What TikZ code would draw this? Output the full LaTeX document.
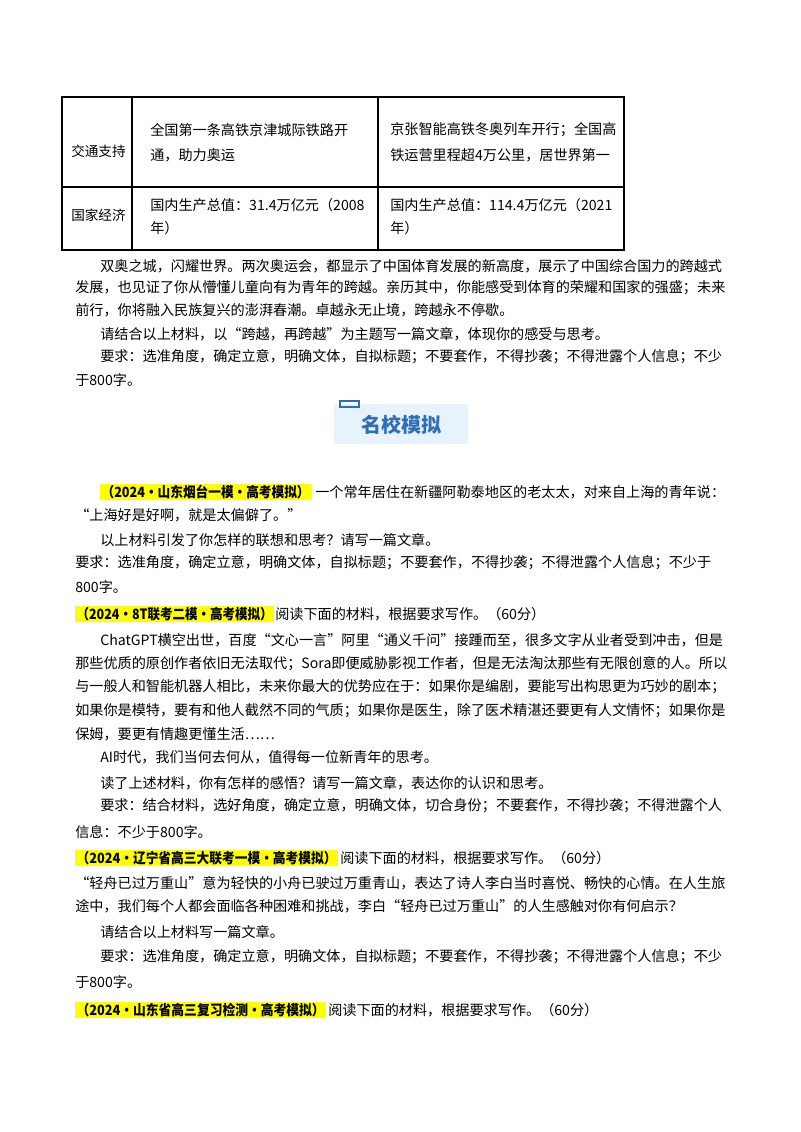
\documentclass[tikz,border=0pt]{standalone}
\usepackage{fontspec}
\usepackage{graphicx}
\setmainfont{Noto Sans CJK SC}
\XeTeXlinebreaklocale "zh"
\XeTeXlinebreakskip=0pt plus 2pt
\definecolor{hl}{HTML}{FFFF00}
\definecolor{bannerbg}{HTML}{E6F3FD}
\definecolor{bannerfg}{HTML}{2E6EB5}
\tikzset{ln/.style={anchor=west,inner sep=0pt,font=\fontsize{10.6pt}{12pt}\selectfont},
 hd/.style={anchor=west,inner sep=1pt,fill=hl,font=\fontsize{10.6pt}{12pt}\selectfont\bfseries},
 tb/.style={draw=black,line width=0.9pt}}
\newcommand{\fl}[4]{\node[ln] (#1) at (#2,#3) {\hbox to \dimexpr(722pt-#2pt)*3/4\relax{#4}};}
\newcommand{\pl}[4]{\node[ln] (#1) at (#2,#3) {#4};}
\newcommand{\hdr}[5]{\node[hd] (#1) at (#2,#3) {\resizebox{\dimexpr #4pt*3/4\relax}{\height}{#5}};}
\begin{document}
\begin{tikzpicture}[x=0.75pt,y=-0.75pt]
\useasboundingbox[fill=white] (0,0) rectangle (800,1132);
% table
\draw[tb] (62,97) rectangle (624,250);
\draw[tb] (62,187) -- (624,187);
\draw[tb] (132,97) -- (132,250);
\draw[tb] (378,97) -- (378,250);
\node[ln,font=\fontsize{10.2pt}{12pt}\selectfont] (t1) at (71,151) {交通支持};
\pl{t2}{150}{130}{全国第一条高铁京津城际铁路开}
\pl{t3}{150}{155}{通，助力奥运}
\pl{t4}{390}{130}{京张智能高铁冬奥列车开行；全国高}
\pl{t5}{390}{155}{铁运营里程超4万公里，居世界第一}
\node[ln,font=\fontsize{10.2pt}{12pt}\selectfont] (t6) at (71,215) {国家经济};
\pl{t7}{150}{205}{国内生产总值：31.4万亿元（2008}
\pl{t8}{150}{228}{年）}
\pl{t9}{390}{205}{国内生产总值：114.4万亿元（2021}
\pl{t10}{390}{228}{年）}
\fl{a1}{100}{266}{双奥之城，闪耀世界。两次奥运会，都显示了中国体育发展的新高度，展示了中国综合国力的跨越式}
\fl{a2}{75}{288}{发展，也见证了你从懵懂儿童向有为青年的跨越。亲历其中，你能感受到体育的荣耀和国家的强盛；未来}
\pl{a3}{75}{310}{前行，你将融入民族复兴的澎湃春潮。卓越永无止境，跨越永不停歇。}
\pl{a4}{100}{334}{请结合以上材料，以“跨越，再跨越”为主题写一篇文章，体现你的感受与思考。}
\fl{a5}{100}{357}{要求：选准角度，确定立意，明确文体，自拟标题；不要套作，不得抄袭；不得泄露个人信息；不少}
\pl{a6}{75}{380}{于800字。}
% banner
\fill[bannerbg] (334,404) rectangle (468,444);
\draw[bannerfg,line width=0.8pt] (340,401) rectangle (359,407);
\node[font=\fontsize{15pt}{16pt}\selectfont\bfseries,text=bannerfg] (bn) at (401,425) {名校模拟};
% q1
\hdr{h1}{100}{492}{208}{（2024·山东烟台一模·高考模拟）}
\node[ln] (b1) at (315,492) {\hbox to \dimexpr(722pt-315pt)*3/4\relax{一个常年居住在新疆阿勒泰地区的老太太，对来自上海的青年说：}};
\pl{b2}{75}{515}{“上海好是好啊，就是太偏僻了。”}
\pl{b3}{100}{540}{以上材料引发了你怎样的联想和思考？请写一篇文章。}
\fl{b4}{75}{563}{要求：选准角度，确定立意，明确文体，自拟标题；不要套作，不得抄袭；不得泄露个人信息；不少于}
\pl{b5}{75}{587}{800字。}
% q2
\hdr{h2}{75}{614}{196}{（2024·8T联考二模·高考模拟）}
\pl{c0}{275}{614}{阅读下面的材料，根据要求写作。（60分）}
\fl{c1}{100}{640}{ChatGPT横空出世，百度“文心一言”阿里“通义千问”接踵而至，很多文字从业者受到冲击，但是}
\fl{c2}{75}{664}{那些优质的原创作者依旧无法取代；Sora即便威胁影视工作者，但是无法淘汰那些有无限创意的人。所以}
\fl{c3}{75}{687}{与一般人和智能机器人相比，未来你最大的优势应在于：如果你是编剧，要能写出构思更为巧妙的剧本；}
\fl{c4}{75}{711}{如果你是模特，要有和他人截然不同的气质；如果你是医生，除了医术精湛还要更有人文情怀；如果你是}
\pl{c5}{75}{734}{保姆，要更有情趣更懂生活……}
\pl{c6}{100}{757}{AI时代，我们当何去何从，值得每一位新青年的思考。}
\pl{c7}{100}{783}{读了上述材料，你有怎样的感悟？请写一篇文章，表达你的认识和思考。}
\fl{c8}{100}{806}{要求：结合材料，选好角度，确定立意，明确文体，切合身份；不要套作，不得抄袭；不得泄露个人}
\pl{c9}{75}{832}{信息：不少于800字。}
% q3
\hdr{h3}{75}{858}{260}{（2024·辽宁省高三大联考一模·高考模拟）}
\pl{d0}{340}{858}{阅读下面的材料，根据要求写作。（60分）}
\fl{d1}{75}{883}{“轻舟已过万重山”意为轻快的小舟已驶过万重青山，表达了诗人李白当时喜悦、畅快的心情。在人生旅}
\pl{d2}{75}{906}{途中，我们每个人都会面临各种困难和挑战，李白“轻舟已过万重山”的人生感触对你有何启示？}
\pl{d3}{100}{932}{请结合以上材料写一篇文章。}
\fl{d4}{100}{957}{要求：选准角度，确定立意，明确文体，自拟标题；不要套作，不得抄袭；不得泄露个人信息；不少}
\pl{d5}{75}{982}{于800字。}
% q4
\hdr{h4}{75}{1010}{248}{（2024·山东省高三复习检测·高考模拟）}
\pl{e0}{328}{1010}{阅读下面的材料，根据要求写作。（60分）}
\end{tikzpicture}
\end{document}
